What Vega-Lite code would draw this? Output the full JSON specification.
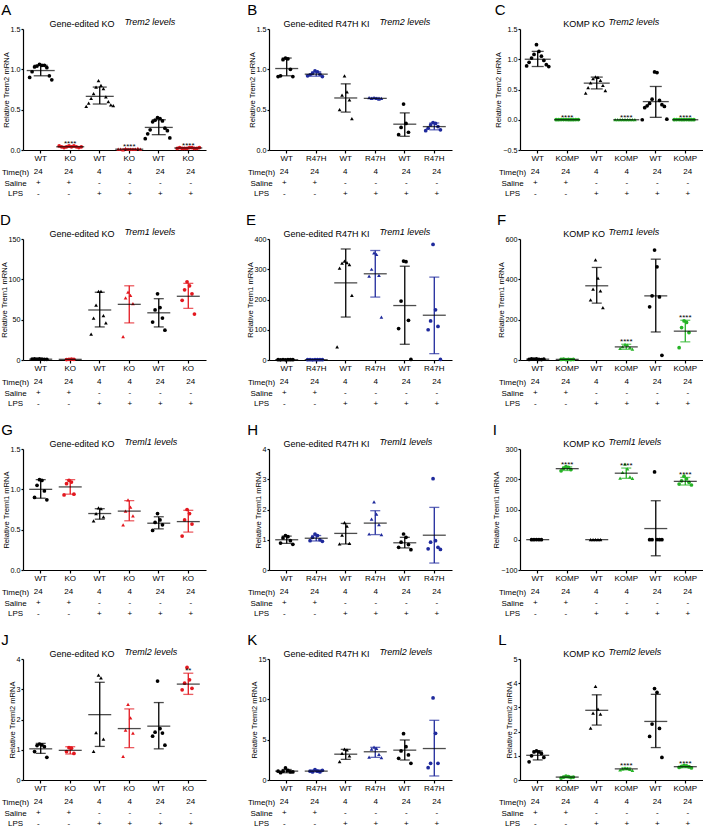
{
"$schema": "https://vega.github.io/schema/vega-lite/v6.json",
"padding": {"left": 0, "top": 3, "right": 0, "bottom": 0},
"background": "white",
"config": {
 "font": "Liberation Sans",
 "view": {"stroke": null},
 "axis": {"grid": false, "domainColor": "#000", "domainWidth": 1.2, "tickColor": "#000", "tickWidth": 1.2, "tickSize": 3, "labelColor": "#000", "labelFontSize": 8, "titleColor": "#000", "titleFontSize": 8, "titleFontWeight": "normal", "labelPadding": 1, "titlePadding": 2, "labelFont": "Liberation Sans", "titleFont": "Liberation Sans"},
 "axisY": {"labelFontSize": 7.2, "tickSize": 2, "titlePadding": 0, "titleFontSize": 7.6, "labelOverlap": false},
 "title": {"fontWeight": "normal", "color": "#000", "font": "Liberation Sans"},
 "text": {"color": "#000", "font": "Liberation Sans"}
},
"datasets": {
"tbl": [
 {"g":1,"r":"Time(h)","t":"24"},{"g":2,"r":"Time(h)","t":"24"},{"g":3,"r":"Time(h)","t":"4"},{"g":4,"r":"Time(h)","t":"4"},{"g":5,"r":"Time(h)","t":"24"},{"g":6,"r":"Time(h)","t":"24"},
 {"g":1,"r":"Saline","t":"+"},{"g":2,"r":"Saline","t":"+"},{"g":3,"r":"Saline","t":"-"},{"g":4,"r":"Saline","t":"-"},{"g":5,"r":"Saline","t":"-"},{"g":6,"r":"Saline","t":"-"},
 {"g":1,"r":"LPS","t":"-"},{"g":2,"r":"LPS","t":"-"},{"g":3,"r":"LPS","t":"+"},{"g":4,"r":"LPS","t":"+"},{"g":5,"r":"LPS","t":"+"},{"g":6,"r":"LPS","t":"+"}
],
"st": [
 {"p":"A","g":1,"m":0.985,"lo":0.92,"hi":1.05},{"p":"A","g":2,"m":0.04,"lo":0.035,"hi":0.045,"sig":"****"},{"p":"A","g":3,"m":0.665,"lo":0.57,"hi":0.78},{"p":"A","g":4,"m":0.01,"lo":0.005,"hi":0.015,"sig":"****"},{"p":"A","g":5,"m":0.28,"lo":0.19,"hi":0.375},{"p":"A","g":6,"m":0.025,"lo":0.02,"hi":0.03,"sig":"****"},
 {"p":"B","g":1,"m":1.01,"lo":0.92,"hi":1.14},{"p":"B","g":2,"m":0.94,"lo":0.915,"hi":0.97},{"p":"B","g":3,"m":0.645,"lo":0.47,"hi":0.82},{"p":"B","g":4,"m":0.64,"lo":0.635,"hi":0.65},{"p":"B","g":5,"m":0.32,"lo":0.17,"hi":0.46},{"p":"B","g":6,"m":0.29,"lo":0.25,"hi":0.335},
 {"p":"C","g":1,"m":1.0,"lo":0.88,"hi":1.13},{"p":"C","g":2,"m":0.0,"lo":0.0,"hi":0.0,"sig":"****"},{"p":"C","g":3,"m":0.605,"lo":0.51,"hi":0.705},{"p":"C","g":4,"m":0.0,"lo":0.0,"hi":0.0,"sig":"****"},{"p":"C","g":5,"m":0.30,"lo":0.04,"hi":0.55},{"p":"C","g":6,"m":0.0,"lo":0.0,"hi":0.0,"sig":"****"},
 {"p":"D","g":1,"m":1,"lo":0.7,"hi":1.3},{"p":"D","g":2,"m":0.8,"lo":0.6,"hi":1.0},{"p":"D","g":3,"m":62,"lo":41,"hi":84},{"p":"D","g":4,"m":69,"lo":46,"hi":92},{"p":"D","g":5,"m":58.5,"lo":41,"hi":76},{"p":"D","g":6,"m":79,"lo":64,"hi":95},
 {"p":"E","g":1,"m":1,"lo":0.5,"hi":1.5},{"p":"E","g":2,"m":1,"lo":0.8,"hi":1.2},{"p":"E","g":3,"m":255,"lo":142,"hi":367},{"p":"E","g":4,"m":285,"lo":208,"hi":362},{"p":"E","g":5,"m":180,"lo":52,"hi":310},{"p":"E","g":6,"m":148,"lo":21,"hi":274},
 {"p":"F","g":1,"m":4,"lo":2,"hi":6},{"p":"F","g":2,"m":3,"lo":2,"hi":4},{"p":"F","g":3,"m":368,"lo":282,"hi":459},{"p":"F","g":4,"m":65,"lo":53,"hi":78,"sig":"****"},{"p":"F","g":5,"m":318,"lo":139,"hi":500},{"p":"F","g":6,"m":143,"lo":90,"hi":197,"sig":"****"},
 {"p":"G","g":1,"m":1.0,"lo":0.89,"hi":1.12},{"p":"G","g":2,"m":1.03,"lo":0.94,"hi":1.12},{"p":"G","g":3,"m":0.70,"lo":0.63,"hi":0.76},{"p":"G","g":4,"m":0.73,"lo":0.61,"hi":0.86},{"p":"G","g":5,"m":0.58,"lo":0.51,"hi":0.66},{"p":"G","g":6,"m":0.60,"lo":0.47,"hi":0.74},
 {"p":"H","g":1,"m":1.0,"lo":0.88,"hi":1.12},{"p":"H","g":2,"m":1.05,"lo":0.96,"hi":1.14},{"p":"H","g":3,"m":1.21,"lo":0.86,"hi":1.54},{"p":"H","g":4,"m":1.55,"lo":1.17,"hi":1.96},{"p":"H","g":5,"m":0.90,"lo":0.73,"hi":1.08},{"p":"H","g":6,"m":1.15,"lo":0.23,"hi":2.07},
 {"p":"I","g":1,"m":0.3,"lo":0.2,"hi":0.4},{"p":"I","g":2,"m":235,"lo":229,"hi":241,"sig":"****"},{"p":"I","g":3,"m":0.3,"lo":0.2,"hi":0.4},{"p":"I","g":4,"m":220,"lo":203,"hi":237,"sig":"****"},{"p":"I","g":5,"m":37,"lo":-53,"hi":129},{"p":"I","g":6,"m":193,"lo":181,"hi":206,"sig":"****"},
 {"p":"J","g":1,"m":1.03,"lo":0.88,"hi":1.21},{"p":"J","g":2,"m":0.98,"lo":0.86,"hi":1.10},{"p":"J","g":3,"m":2.16,"lo":1.11,"hi":3.23},{"p":"J","g":4,"m":1.70,"lo":1.07,"hi":2.35},{"p":"J","g":5,"m":1.78,"lo":1.03,"hi":2.56},{"p":"J","g":6,"m":3.17,"lo":2.83,"hi":3.53,"sig":"**"},
 {"p":"K","g":1,"m":1.1,"lo":0.9,"hi":1.3},{"p":"K","g":2,"m":1.1,"lo":1.0,"hi":1.25},{"p":"K","g":3,"m":3.2,"lo":2.56,"hi":3.8},{"p":"K","g":4,"m":3.5,"lo":2.81,"hi":4.05},{"p":"K","g":5,"m":3.7,"lo":2.48,"hi":4.96},{"p":"K","g":6,"m":3.9,"lo":0.5,"hi":7.4},
 {"p":"L","g":1,"m":1.02,"lo":0.83,"hi":1.2},{"p":"L","g":2,"m":0.12,"lo":0.09,"hi":0.15},{"p":"L","g":3,"m":2.88,"lo":2.27,"hi":3.52},{"p":"L","g":4,"m":0.46,"lo":0.42,"hi":0.50,"sig":"****"},{"p":"L","g":5,"m":2.42,"lo":1.34,"hi":3.54},{"p":"L","g":6,"m":0.55,"lo":0.51,"hi":0.59,"sig":"****"}
],
"pts": [
 {"p":"A","g":1,"v":1.06},{"p":"A","g":1,"v":1.05},{"p":"A","g":1,"v":1.04},{"p":"A","g":1,"v":1.05},{"p":"A","g":1,"v":1.03},{"p":"A","g":1,"v":1.02},{"p":"A","g":1,"v":0.97},{"p":"A","g":1,"v":0.92},{"p":"A","g":1,"v":0.90},{"p":"A","g":1,"v":0.87},
 {"p":"A","g":2,"v":0.05},{"p":"A","g":2,"v":0.04},{"p":"A","g":2,"v":0.04},{"p":"A","g":2,"v":0.05},{"p":"A","g":2,"v":0.03},{"p":"A","g":2,"v":0.04},{"p":"A","g":2,"v":0.04},{"p":"A","g":2,"v":0.03},{"p":"A","g":2,"v":0.05},{"p":"A","g":2,"v":0.04},
 {"p":"A","g":3,"v":0.86},{"p":"A","g":3,"v":0.80},{"p":"A","g":3,"v":0.78},{"p":"A","g":3,"v":0.76},{"p":"A","g":3,"v":0.70},{"p":"A","g":3,"v":0.66},{"p":"A","g":3,"v":0.64},{"p":"A","g":3,"v":0.60},{"p":"A","g":3,"v":0.58},{"p":"A","g":3,"v":0.56},{"p":"A","g":3,"v":0.54},{"p":"A","g":3,"v":0.55},
 {"p":"A","g":4,"v":0.01},{"p":"A","g":4,"v":0.01},{"p":"A","g":4,"v":0.02},{"p":"A","g":4,"v":0.01},{"p":"A","g":4,"v":0.0},{"p":"A","g":4,"v":0.01},{"p":"A","g":4,"v":0.01},{"p":"A","g":4,"v":0.02},{"p":"A","g":4,"v":0.01},{"p":"A","g":4,"v":0.01},
 {"p":"A","g":5,"v":0.40},{"p":"A","g":5,"v":0.39},{"p":"A","g":5,"v":0.37},{"p":"A","g":5,"v":0.36},{"p":"A","g":5,"v":0.35},{"p":"A","g":5,"v":0.27},{"p":"A","g":5,"v":0.25},{"p":"A","g":5,"v":0.24},{"p":"A","g":5,"v":0.20},{"p":"A","g":5,"v":0.15},{"p":"A","g":5,"v":0.14},
 {"p":"A","g":6,"v":0.02},{"p":"A","g":6,"v":0.03},{"p":"A","g":6,"v":0.02},{"p":"A","g":6,"v":0.03},{"p":"A","g":6,"v":0.02},{"p":"A","g":6,"v":0.02},{"p":"A","g":6,"v":0.03},{"p":"A","g":6,"v":0.02},{"p":"A","g":6,"v":0.02},{"p":"A","g":6,"v":0.03},
 {"p":"B","g":1,"v":1.14},{"p":"B","g":1,"v":1.13},{"p":"B","g":1,"v":1.12},{"p":"B","g":1,"v":1.0},{"p":"B","g":1,"v":0.92},{"p":"B","g":1,"v":0.91},{"p":"B","g":1,"v":0.91},
 {"p":"B","g":2,"v":0.98},{"p":"B","g":2,"v":0.97},{"p":"B","g":2,"v":0.95},{"p":"B","g":2,"v":0.94},{"p":"B","g":2,"v":0.93},{"p":"B","g":2,"v":0.91},{"p":"B","g":2,"v":0.92},
 {"p":"B","g":3,"v":0.92},{"p":"B","g":3,"v":0.72},{"p":"B","g":3,"v":0.68},{"p":"B","g":3,"v":0.62},{"p":"B","g":3,"v":0.50},{"p":"B","g":3,"v":0.39},
 {"p":"B","g":4,"v":0.65},{"p":"B","g":4,"v":0.64},{"p":"B","g":4,"v":0.64},{"p":"B","g":4,"v":0.63},{"p":"B","g":4,"v":0.65},{"p":"B","g":4,"v":0.64},
 {"p":"B","g":5,"v":0.57},{"p":"B","g":5,"v":0.33},{"p":"B","g":5,"v":0.28},{"p":"B","g":5,"v":0.22},{"p":"B","g":5,"v":0.19},
 {"p":"B","g":6,"v":0.34},{"p":"B","g":6,"v":0.33},{"p":"B","g":6,"v":0.31},{"p":"B","g":6,"v":0.29},{"p":"B","g":6,"v":0.27},{"p":"B","g":6,"v":0.25},{"p":"B","g":6,"v":0.24},
 {"p":"C","g":1,"v":1.24},{"p":"C","g":1,"v":1.13},{"p":"C","g":1,"v":1.08},{"p":"C","g":1,"v":1.05},{"p":"C","g":1,"v":1.02},{"p":"C","g":1,"v":0.98},{"p":"C","g":1,"v":0.95},{"p":"C","g":1,"v":0.91},{"p":"C","g":1,"v":0.89},{"p":"C","g":1,"v":0.88},
 {"p":"C","g":2,"v":0.003},{"p":"C","g":2,"v":0.002},{"p":"C","g":2,"v":0.004},{"p":"C","g":2,"v":0.002},{"p":"C","g":2,"v":0.003},{"p":"C","g":2,"v":0.001},{"p":"C","g":2,"v":0.002},{"p":"C","g":2,"v":0.003},{"p":"C","g":2,"v":0.002},{"p":"C","g":2,"v":0.004},
 {"p":"C","g":3,"v":0.71},{"p":"C","g":3,"v":0.70},{"p":"C","g":3,"v":0.68},{"p":"C","g":3,"v":0.65},{"p":"C","g":3,"v":0.61},{"p":"C","g":3,"v":0.57},{"p":"C","g":3,"v":0.53},{"p":"C","g":3,"v":0.48},{"p":"C","g":3,"v":0.44},
 {"p":"C","g":4,"v":0.002},{"p":"C","g":4,"v":0.003},{"p":"C","g":4,"v":0.001},{"p":"C","g":4,"v":0.002},{"p":"C","g":4,"v":0.004},{"p":"C","g":4,"v":0.002},{"p":"C","g":4,"v":0.003},{"p":"C","g":4,"v":0.002},{"p":"C","g":4,"v":0.001},
 {"p":"C","g":5,"v":0.79},{"p":"C","g":5,"v":0.78},{"p":"C","g":5,"v":0.34},{"p":"C","g":5,"v":0.32},{"p":"C","g":5,"v":0.27},{"p":"C","g":5,"v":0.25},{"p":"C","g":5,"v":0.23},{"p":"C","g":5,"v":0.22},{"p":"C","g":5,"v":0.20},{"p":"C","g":5,"v":0.01},{"p":"C","g":5,"v":0.0},
 {"p":"C","g":6,"v":0.002},{"p":"C","g":6,"v":0.003},{"p":"C","g":6,"v":0.001},{"p":"C","g":6,"v":0.002},{"p":"C","g":6,"v":0.004},{"p":"C","g":6,"v":0.002},{"p":"C","g":6,"v":0.003},{"p":"C","g":6,"v":0.002},{"p":"C","g":6,"v":0.001},
 {"p":"D","g":1,"v":1.5},{"p":"D","g":1,"v":1.2},{"p":"D","g":1,"v":1.0},{"p":"D","g":1,"v":0.8},{"p":"D","g":1,"v":1.3},{"p":"D","g":1,"v":0.9},{"p":"D","g":1,"v":1.1},
 {"p":"D","g":2,"v":0.8},{"p":"D","g":2,"v":1.0},{"p":"D","g":2,"v":0.6},{"p":"D","g":2,"v":0.9},
 {"p":"D","g":3,"v":85},{"p":"D","g":3,"v":85},{"p":"D","g":3,"v":68},{"p":"D","g":3,"v":55},{"p":"D","g":3,"v":52},{"p":"D","g":3,"v":46},{"p":"D","g":3,"v":32},
 {"p":"D","g":4,"v":84},{"p":"D","g":4,"v":80},{"p":"D","g":4,"v":77},{"p":"D","g":4,"v":70},{"p":"D","g":4,"v":29},
 {"p":"D","g":5,"v":82},{"p":"D","g":5,"v":65},{"p":"D","g":5,"v":62},{"p":"D","g":5,"v":52},{"p":"D","g":5,"v":47},{"p":"D","g":5,"v":37},
 {"p":"D","g":6,"v":97},{"p":"D","g":6,"v":92},{"p":"D","g":6,"v":87},{"p":"D","g":6,"v":82},{"p":"D","g":6,"v":74},{"p":"D","g":6,"v":57},
 {"p":"E","g":1,"v":0.5},{"p":"E","g":1,"v":1},{"p":"E","g":1,"v":1.5},{"p":"E","g":1,"v":1},{"p":"E","g":1,"v":0.8},{"p":"E","g":1,"v":1.2},{"p":"E","g":1,"v":0.9},
 {"p":"E","g":2,"v":1.0},{"p":"E","g":2,"v":1.2},{"p":"E","g":2,"v":0.8},{"p":"E","g":2,"v":1.1},{"p":"E","g":2,"v":0.9},{"p":"E","g":2,"v":1.0},{"p":"E","g":2,"v":1.0},
 {"p":"E","g":3,"v":327},{"p":"E","g":3,"v":322},{"p":"E","g":3,"v":320},{"p":"E","g":3,"v":315},{"p":"E","g":3,"v":304},{"p":"E","g":3,"v":214},{"p":"E","g":3,"v":43},
 {"p":"E","g":4,"v":354},{"p":"E","g":4,"v":349},{"p":"E","g":4,"v":300},{"p":"E","g":4,"v":280},{"p":"E","g":4,"v":277},{"p":"E","g":4,"v":142},
 {"p":"E","g":5,"v":327},{"p":"E","g":5,"v":325},{"p":"E","g":5,"v":195},{"p":"E","g":5,"v":131},{"p":"E","g":5,"v":104},{"p":"E","g":5,"v":2},
 {"p":"E","g":6,"v":382},{"p":"E","g":6,"v":166},{"p":"E","g":6,"v":129},{"p":"E","g":6,"v":111},{"p":"E","g":6,"v":100},{"p":"E","g":6,"v":2},
 {"p":"F","g":1,"v":5},{"p":"F","g":1,"v":3},{"p":"F","g":1,"v":4},{"p":"F","g":1,"v":2},{"p":"F","g":1,"v":6},{"p":"F","g":1,"v":4},{"p":"F","g":1,"v":3},
 {"p":"F","g":2,"v":2},{"p":"F","g":2,"v":3},{"p":"F","g":2,"v":4},{"p":"F","g":2,"v":2},{"p":"F","g":2,"v":3},{"p":"F","g":2,"v":3},
 {"p":"F","g":3,"v":497},{"p":"F","g":3,"v":406},{"p":"F","g":3,"v":351},{"p":"F","g":3,"v":343},{"p":"F","g":3,"v":298},{"p":"F","g":3,"v":260},
 {"p":"F","g":4,"v":78},{"p":"F","g":4,"v":74},{"p":"F","g":4,"v":66},{"p":"F","g":4,"v":62},{"p":"F","g":4,"v":58},{"p":"F","g":4,"v":54},
 {"p":"F","g":5,"v":545},{"p":"F","g":5,"v":462},{"p":"F","g":5,"v":318},{"p":"F","g":5,"v":313},{"p":"F","g":5,"v":264},{"p":"F","g":5,"v":23},
 {"p":"F","g":6,"v":194},{"p":"F","g":6,"v":186},{"p":"F","g":6,"v":161},{"p":"F","g":6,"v":136},{"p":"F","g":6,"v":61},
 {"p":"G","g":1,"v":1.12},{"p":"G","g":1,"v":1.11},{"p":"G","g":1,"v":1.05},{"p":"G","g":1,"v":0.98},{"p":"G","g":1,"v":0.90},{"p":"G","g":1,"v":0.87},
 {"p":"G","g":2,"v":1.11},{"p":"G","g":2,"v":1.09},{"p":"G","g":2,"v":1.07},{"p":"G","g":2,"v":0.94},{"p":"G","g":2,"v":0.93},
 {"p":"G","g":3,"v":0.77},{"p":"G","g":3,"v":0.76},{"p":"G","g":3,"v":0.70},{"p":"G","g":3,"v":0.66},{"p":"G","g":3,"v":0.61},
 {"p":"G","g":4,"v":0.87},{"p":"G","g":4,"v":0.78},{"p":"G","g":4,"v":0.73},{"p":"G","g":4,"v":0.67},{"p":"G","g":4,"v":0.56},
 {"p":"G","g":5,"v":0.70},{"p":"G","g":5,"v":0.62},{"p":"G","g":5,"v":0.59},{"p":"G","g":5,"v":0.56},{"p":"G","g":5,"v":0.49},
 {"p":"G","g":6,"v":0.75},{"p":"G","g":6,"v":0.70},{"p":"G","g":6,"v":0.62},{"p":"G","g":6,"v":0.57},{"p":"G","g":6,"v":0.42},
 {"p":"H","g":1,"v":1.14},{"p":"H","g":1,"v":1.10},{"p":"H","g":1,"v":1.06},{"p":"H","g":1,"v":0.97},{"p":"H","g":1,"v":0.89},{"p":"H","g":1,"v":0.85},
 {"p":"H","g":2,"v":1.19},{"p":"H","g":2,"v":1.14},{"p":"H","g":2,"v":1.08},{"p":"H","g":2,"v":1.0},{"p":"H","g":2,"v":0.97},{"p":"H","g":2,"v":0.95},
 {"p":"H","g":3,"v":1.57},{"p":"H","g":3,"v":1.45},{"p":"H","g":3,"v":1.15},{"p":"H","g":3,"v":0.88},{"p":"H","g":3,"v":0.86},
 {"p":"H","g":4,"v":2.25},{"p":"H","g":4,"v":1.85},{"p":"H","g":4,"v":1.68},{"p":"H","g":4,"v":1.50},{"p":"H","g":4,"v":1.19},{"p":"H","g":4,"v":1.17},
 {"p":"H","g":5,"v":1.19},{"p":"H","g":5,"v":1.08},{"p":"H","g":5,"v":0.92},{"p":"H","g":5,"v":0.84},{"p":"H","g":5,"v":0.75},{"p":"H","g":5,"v":0.67},
 {"p":"H","g":6,"v":3.02},{"p":"H","g":6,"v":0.97},{"p":"H","g":6,"v":0.92},{"p":"H","g":6,"v":0.75},{"p":"H","g":6,"v":0.70},{"p":"H","g":6,"v":0.68},
 {"p":"I","g":1,"v":0.5},{"p":"I","g":1,"v":0.3},{"p":"I","g":1,"v":0.2},{"p":"I","g":1,"v":0.4},{"p":"I","g":1,"v":0.3},
 {"p":"I","g":2,"v":242},{"p":"I","g":2,"v":239},{"p":"I","g":2,"v":236},{"p":"I","g":2,"v":232},{"p":"I","g":2,"v":228},
 {"p":"I","g":3,"v":0.3},{"p":"I","g":3,"v":0.2},{"p":"I","g":3,"v":0.4},{"p":"I","g":3,"v":0.2},{"p":"I","g":3,"v":0.3},
 {"p":"I","g":4,"v":250},{"p":"I","g":4,"v":234},{"p":"I","g":4,"v":223},{"p":"I","g":4,"v":208},{"p":"I","g":4,"v":204},{"p":"I","g":4,"v":203},
 {"p":"I","g":5,"v":224},{"p":"I","g":5,"v":0.5},{"p":"I","g":5,"v":0.3},{"p":"I","g":5,"v":0.4},{"p":"I","g":5,"v":0.2},{"p":"I","g":5,"v":0.3},
 {"p":"I","g":6,"v":210},{"p":"I","g":6,"v":201},{"p":"I","g":6,"v":195},{"p":"I","g":6,"v":190},{"p":"I","g":6,"v":184},{"p":"I","g":6,"v":181},
 {"p":"J","g":1,"v":1.19},{"p":"J","g":1,"v":1.16},{"p":"J","g":1,"v":1.14},{"p":"J","g":1,"v":1.10},{"p":"J","g":1,"v":0.94},{"p":"J","g":1,"v":0.75},
 {"p":"J","g":2,"v":1.07},{"p":"J","g":2,"v":1.05},{"p":"J","g":2,"v":0.94},{"p":"J","g":2,"v":0.88},
 {"p":"J","g":3,"v":3.47},{"p":"J","g":3,"v":3.38},{"p":"J","g":3,"v":1.57},{"p":"J","g":3,"v":1.35},{"p":"J","g":3,"v":0.95},
 {"p":"J","g":4,"v":2.50},{"p":"J","g":4,"v":2.05},{"p":"J","g":4,"v":1.65},{"p":"J","g":4,"v":1.55},{"p":"J","g":4,"v":0.78},
 {"p":"J","g":5,"v":3.27},{"p":"J","g":5,"v":1.70},{"p":"J","g":5,"v":1.58},{"p":"J","g":5,"v":1.55},{"p":"J","g":5,"v":1.45},{"p":"J","g":5,"v":1.15},
 {"p":"J","g":6,"v":3.72},{"p":"J","g":6,"v":3.31},{"p":"J","g":6,"v":3.20},{"p":"J","g":6,"v":3.03},{"p":"J","g":6,"v":2.98},
 {"p":"K","g":1,"v":1.5},{"p":"K","g":1,"v":1.2},{"p":"K","g":1,"v":1.1},{"p":"K","g":1,"v":1.0},{"p":"K","g":1,"v":0.9},{"p":"K","g":1,"v":1.0},{"p":"K","g":1,"v":1.1},
 {"p":"K","g":2,"v":1.3},{"p":"K","g":2,"v":1.1},{"p":"K","g":2,"v":1.0},{"p":"K","g":2,"v":1.0},{"p":"K","g":2,"v":1.1},{"p":"K","g":2,"v":1.2},
 {"p":"K","g":3,"v":3.84},{"p":"K","g":3,"v":3.72},{"p":"K","g":3,"v":3.30},{"p":"K","g":3,"v":2.98},{"p":"K","g":3,"v":2.27},
 {"p":"K","g":4,"v":4.09},{"p":"K","g":4,"v":3.93},{"p":"K","g":4,"v":3.84},{"p":"K","g":4,"v":3.18},{"p":"K","g":4,"v":2.85},{"p":"K","g":4,"v":2.77},
 {"p":"K","g":5,"v":5.74},{"p":"K","g":5,"v":4.13},{"p":"K","g":5,"v":3.60},{"p":"K","g":5,"v":3.10},{"p":"K","g":5,"v":2.69},{"p":"K","g":5,"v":2.07},
 {"p":"K","g":6,"v":10.17},{"p":"K","g":6,"v":5.79},{"p":"K","g":6,"v":2.07},{"p":"K","g":6,"v":2.07},{"p":"K","g":6,"v":1.53},
 {"p":"L","g":1,"v":1.2},{"p":"L","g":1,"v":1.16},{"p":"L","g":1,"v":1.16},{"p":"L","g":1,"v":1.10},{"p":"L","g":1,"v":1.0},{"p":"L","g":1,"v":0.93},{"p":"L","g":1,"v":0.75},
 {"p":"L","g":2,"v":0.16},{"p":"L","g":2,"v":0.14},{"p":"L","g":2,"v":0.12},{"p":"L","g":2,"v":0.10},{"p":"L","g":2,"v":0.08},{"p":"L","g":2,"v":0.12},
 {"p":"L","g":3,"v":3.87},{"p":"L","g":3,"v":2.93},{"p":"L","g":3,"v":2.76},{"p":"L","g":3,"v":2.72},{"p":"L","g":3,"v":2.14},
 {"p":"L","g":4,"v":0.50},{"p":"L","g":4,"v":0.48},{"p":"L","g":4,"v":0.46},{"p":"L","g":4,"v":0.44},{"p":"L","g":4,"v":0.42},{"p":"L","g":4,"v":0.40},
 {"p":"L","g":5,"v":3.78},{"p":"L","g":5,"v":3.62},{"p":"L","g":5,"v":2.31},{"p":"L","g":5,"v":2.13},{"p":"L","g":5,"v":1.80},{"p":"L","g":5,"v":0.93},
 {"p":"L","g":6,"v":0.60},{"p":"L","g":6,"v":0.58},{"p":"L","g":6,"v":0.56},{"p":"L","g":6,"v":0.54},{"p":"L","g":6,"v":0.52},{"p":"L","g":6,"v":0.50}
]
},
"columns": 3,
"spacing": {"row": 14, "column": 40},
"concat": [
{"title": {"text": "A", "fontSize": 15, "anchor": "start", "frame": "bounds", "offset": -1}, "spacing": 5, "vconcat": [
 {"width": 183, "height": 121,
  "title": {"text": "Gene-edited KO", "fontSize": 9, "anchor": "middle", "align": "right", "dx": 0, "offset": -12},
  "resolve": {"axis": {"x": "independent"}},
  "encoding": {"x": {"field": "g", "type": "ordinal", "scale": {"paddingInner": 0, "paddingOuter": 0.1}, "axis": {"title": null, "labelAngle": 0, "labelPadding": 1, "labelExpr": "datum.value % 2 == 1 ? 'WT' : 'KO'"}}},
  "layer": [
   {"data": {"name": "pts"}, "transform": [{"filter": "datum.p == 'A'"}, {"window": [{"op": "row_number", "as": "j"}], "groupby": ["g"]}],
    "mark": {"type": "point", "filled": true, "size": 14, "opacity": 1},
    "encoding": {"xOffset": {"field": "j", "type": "ordinal", "scale": {"domain": [11,9,7,5,3,1,2,4,6,8,10,12]}},
     "y": {"field": "v", "type": "quantitative", "scale": {"domain": [0, 1.5], "nice": false}, "axis": {"title": "Relative Trem2 mRNA", "values": [0, 0.5, 1, 1.5], "tickCount": 10, "labelOverlap": false, "format": ".1f"}},
     "color": {"condition": {"test": "datum.g % 2 == 0", "value": "#e3181f"}, "value": "#000"},
     "shape": {"condition": {"test": "datum.g == 3 || datum.g == 4", "value": "triangle-up"}, "value": "circle"}}},
   {"data": {"name": "st"}, "transform": [{"filter": "datum.p == 'A'"}],
    "encoding": {"x": {"field": "g", "type": "ordinal", "scale": {"paddingInner": 0, "paddingOuter": 0.1}, "axis": {"orient": "top", "domain": false, "ticks": false, "labels": false, "title": "Trem2 levels", "titleFontStyle": "italic", "titleFontSize": 9, "titleX": 101, "titleAlign": "left", "titlePadding": 3}}},
    "layer": [
     {"mark": {"type": "rule", "strokeWidth": 1.3}, "encoding": {"y": {"field": "lo", "type": "quantitative"}, "y2": {"field": "hi"}, "color": {"condition": {"test": "datum.g % 2 == 0", "value": "#e3181f"}, "value": "#000"}}},
     {"mark": {"type": "tick", "size": 14, "thickness": 1.3}, "encoding": {"y": {"field": "lo", "type": "quantitative"}, "color": {"condition": {"test": "datum.g % 2 == 0", "value": "#e3181f"}, "value": "#000"}}},
     {"mark": {"type": "tick", "size": 14, "thickness": 1.3}, "encoding": {"y": {"field": "hi", "type": "quantitative"}, "color": {"condition": {"test": "datum.g % 2 == 0", "value": "#e3181f"}, "value": "#000"}}},
     {"mark": {"type": "tick", "size": 28, "thickness": 1.3, "color": "#000"}, "encoding": {"y": {"field": "m", "type": "quantitative"}}},
     {"transform": [{"filter": "datum.sig"}], "mark": {"type": "text", "dy": -2, "fontSize": 8, "color": "#000"}, "encoding": {"y": {"field": "hi", "type": "quantitative"}, "text": {"field": "sig"}}}
   ]}
  ]},
 {"width": 183, "height": 32, "data": {"name": "tbl"}, "mark": {"type": "text", "fontSize": 8, "color": "#000"},
  "encoding": {"x": {"field": "g", "type": "ordinal", "scale": {"paddingInner": 0, "paddingOuter": 0.1}, "axis": null},
   "y": {"field": "r", "type": "nominal", "sort": ["Time(h)", "Saline", "LPS"], "axis": {"title": null, "domain": false, "ticks": false, "labelAlign": "center", "labelPadding": 8, "labelFontSize": 8}},
   "text": {"field": "t"}}}
]},
{"title": {"text": "B", "fontSize": 15, "anchor": "start", "frame": "bounds", "offset": -1}, "spacing": 5, "vconcat": [
 {"width": 183, "height": 121,
  "title": {"text": "Gene-edited R47H KI", "fontSize": 9, "anchor": "middle", "align": "right", "dx": 9, "offset": -12},
  "resolve": {"axis": {"x": "independent"}},
  "encoding": {"x": {"field": "g", "type": "ordinal", "scale": {"paddingInner": 0, "paddingOuter": 0.1}, "axis": {"title": null, "labelAngle": 0, "labelPadding": 1, "labelExpr": "datum.value % 2 == 1 ? 'WT' : 'R47H'"}}},
  "layer": [
   {"data": {"name": "pts"}, "transform": [{"filter": "datum.p == 'B'"}, {"window": [{"op": "row_number", "as": "j"}], "groupby": ["g"]}],
    "mark": {"type": "point", "filled": true, "size": 14, "opacity": 1},
    "encoding": {"xOffset": {"field": "j", "type": "ordinal", "scale": {"domain": [7,5,3,1,2,4,6]}},
     "y": {"field": "v", "type": "quantitative", "scale": {"domain": [0, 1.5], "nice": false}, "axis": {"title": "Relative Trem2 mRNA", "values": [0, 0.5, 1, 1.5], "tickCount": 10, "labelOverlap": false, "format": ".1f"}},
     "color": {"condition": {"test": "datum.g % 2 == 0", "value": "#1f2a9c"}, "value": "#000"},
     "shape": {"condition": {"test": "datum.g == 3 || datum.g == 4", "value": "triangle-up"}, "value": "circle"}}},
   {"data": {"name": "st"}, "transform": [{"filter": "datum.p == 'B'"}],
    "encoding": {"x": {"field": "g", "type": "ordinal", "scale": {"paddingInner": 0, "paddingOuter": 0.1}, "axis": {"orient": "top", "domain": false, "ticks": false, "labels": false, "title": "Trem2 levels", "titleFontStyle": "italic", "titleFontSize": 9, "titleX": 110, "titleAlign": "left", "titlePadding": 3}}},
    "layer": [
     {"mark": {"type": "rule", "strokeWidth": 1.3}, "encoding": {"y": {"field": "lo", "type": "quantitative"}, "y2": {"field": "hi"}, "color": {"condition": {"test": "datum.g % 2 == 0", "value": "#1f2a9c"}, "value": "#000"}}},
     {"mark": {"type": "tick", "size": 10, "thickness": 1.3}, "encoding": {"y": {"field": "lo", "type": "quantitative"}, "color": {"condition": {"test": "datum.g % 2 == 0", "value": "#1f2a9c"}, "value": "#000"}}},
     {"mark": {"type": "tick", "size": 10, "thickness": 1.3}, "encoding": {"y": {"field": "hi", "type": "quantitative"}, "color": {"condition": {"test": "datum.g % 2 == 0", "value": "#1f2a9c"}, "value": "#000"}}},
     {"mark": {"type": "tick", "size": 23, "thickness": 1.3, "color": "#000"}, "encoding": {"y": {"field": "m", "type": "quantitative"}}},
     {"transform": [{"filter": "datum.sig"}], "mark": {"type": "text", "dy": -2, "fontSize": 8, "color": "#000"}, "encoding": {"y": {"field": "hi", "type": "quantitative"}, "text": {"field": "sig"}}}
   ]}
  ]},
 {"width": 183, "height": 32, "data": {"name": "tbl"}, "mark": {"type": "text", "fontSize": 8, "color": "#000"},
  "encoding": {"x": {"field": "g", "type": "ordinal", "scale": {"paddingInner": 0, "paddingOuter": 0.1}, "axis": null},
   "y": {"field": "r", "type": "nominal", "sort": ["Time(h)", "Saline", "LPS"], "axis": {"title": null, "domain": false, "ticks": false, "labelAlign": "center", "labelPadding": 8, "labelFontSize": 8}},
   "text": {"field": "t"}}}
]},
{"title": {"text": "C", "fontSize": 15, "anchor": "start", "frame": "bounds", "offset": -1}, "spacing": 5, "vconcat": [
 {"width": 183, "height": 121,
  "title": {"text": "KOMP KO", "fontSize": 9, "anchor": "middle", "align": "right", "dx": -6.5, "offset": -12},
  "resolve": {"axis": {"x": "independent"}},
  "encoding": {"x": {"field": "g", "type": "ordinal", "scale": {"paddingInner": 0, "paddingOuter": 0.1}, "axis": {"title": null, "labelAngle": 0, "labelPadding": 1, "labelExpr": "datum.value % 2 == 1 ? 'WT' : 'KOMP'"}}},
  "layer": [
   {"data": {"name": "pts"}, "transform": [{"filter": "datum.p == 'C'"}, {"window": [{"op": "row_number", "as": "j"}], "groupby": ["g"]}],
    "mark": {"type": "point", "filled": true, "size": 14, "opacity": 1},
    "encoding": {"xOffset": {"field": "j", "type": "ordinal", "scale": {"domain": [11,9,7,5,3,1,2,4,6,8,10,12]}},
     "y": {"field": "v", "type": "quantitative", "scale": {"domain": [-0.5, 1.5], "nice": false}, "axis": {"title": "Relative Trem2 mRNA", "values": [-0.5, 0, 0.5, 1, 1.5], "tickCount": 10, "labelOverlap": false, "format": ".1f"}},
     "color": {"condition": {"test": "datum.g % 2 == 0", "value": "#27b327"}, "value": "#000"},
     "shape": {"condition": {"test": "datum.g == 3 || datum.g == 4", "value": "triangle-up"}, "value": "circle"}}},
   {"data": {"name": "st"}, "transform": [{"filter": "datum.p == 'C'"}],
    "encoding": {"x": {"field": "g", "type": "ordinal", "scale": {"paddingInner": 0, "paddingOuter": 0.1}, "axis": {"orient": "top", "domain": false, "ticks": false, "labels": false, "title": "Trem2 levels", "titleFontStyle": "italic", "titleFontSize": 9, "titleX": 88, "titleAlign": "left", "titlePadding": 3}}},
    "layer": [
     {"mark": {"type": "rule", "strokeWidth": 1.3}, "encoding": {"y": {"field": "lo", "type": "quantitative"}, "y2": {"field": "hi"}, "color": {"condition": {"test": "datum.g % 2 == 0", "value": "#27b327"}, "value": "#000"}}},
     {"mark": {"type": "tick", "size": 12, "thickness": 1.3}, "encoding": {"y": {"field": "lo", "type": "quantitative"}, "color": {"condition": {"test": "datum.g % 2 == 0", "value": "#27b327"}, "value": "#000"}}},
     {"mark": {"type": "tick", "size": 12, "thickness": 1.3}, "encoding": {"y": {"field": "hi", "type": "quantitative"}, "color": {"condition": {"test": "datum.g % 2 == 0", "value": "#27b327"}, "value": "#000"}}},
     {"mark": {"type": "tick", "size": 26, "thickness": 1.3, "color": "#000"}, "encoding": {"y": {"field": "m", "type": "quantitative"}}},
     {"transform": [{"filter": "datum.sig"}], "mark": {"type": "text", "dy": -2, "fontSize": 8, "color": "#000"}, "encoding": {"y": {"field": "hi", "type": "quantitative"}, "text": {"field": "sig"}}}
   ]}
  ]},
 {"width": 183, "height": 32, "data": {"name": "tbl"}, "mark": {"type": "text", "fontSize": 8, "color": "#000"},
  "encoding": {"x": {"field": "g", "type": "ordinal", "scale": {"paddingInner": 0, "paddingOuter": 0.1}, "axis": null},
   "y": {"field": "r", "type": "nominal", "sort": ["Time(h)", "Saline", "LPS"], "axis": {"title": null, "domain": false, "ticks": false, "labelAlign": "center", "labelPadding": 8, "labelFontSize": 8}},
   "text": {"field": "t"}}}
]},
{"title": {"text": "D", "fontSize": 15, "anchor": "start", "frame": "bounds", "offset": -1}, "spacing": 5, "vconcat": [
 {"width": 183, "height": 121,
  "title": {"text": "Gene-edited KO", "fontSize": 9, "anchor": "middle", "align": "right", "dx": 0, "offset": -12},
  "resolve": {"axis": {"x": "independent"}},
  "encoding": {"x": {"field": "g", "type": "ordinal", "scale": {"paddingInner": 0, "paddingOuter": 0.1}, "axis": {"title": null, "labelAngle": 0, "labelPadding": 1, "labelExpr": "datum.value % 2 == 1 ? 'WT' : 'KO'"}}},
  "layer": [
   {"data": {"name": "pts"}, "transform": [{"filter": "datum.p == 'D'"}, {"window": [{"op": "row_number", "as": "j"}], "groupby": ["g"]}],
    "mark": {"type": "point", "filled": true, "size": 14, "opacity": 1},
    "encoding": {"xOffset": {"field": "j", "type": "ordinal", "scale": {"domain": [7,5,3,1,2,4,6]}},
     "y": {"field": "v", "type": "quantitative", "scale": {"domain": [0, 150], "nice": false}, "axis": {"title": "Relative Trem1 mRNA", "values": [0, 50, 100, 150], "tickCount": 10, "labelOverlap": false, "format": "d"}},
     "color": {"condition": {"test": "datum.g % 2 == 0", "value": "#e3181f"}, "value": "#000"},
     "shape": {"condition": {"test": "datum.g == 3 || datum.g == 4", "value": "triangle-up"}, "value": "circle"}}},
   {"data": {"name": "st"}, "transform": [{"filter": "datum.p == 'D'"}],
    "encoding": {"x": {"field": "g", "type": "ordinal", "scale": {"paddingInner": 0, "paddingOuter": 0.1}, "axis": {"orient": "top", "domain": false, "ticks": false, "labels": false, "title": "Trem1 levels", "titleFontStyle": "italic", "titleFontSize": 9, "titleX": 101, "titleAlign": "left", "titlePadding": 3}}},
    "layer": [
     {"mark": {"type": "rule", "strokeWidth": 1.3}, "encoding": {"y": {"field": "lo", "type": "quantitative"}, "y2": {"field": "hi"}, "color": {"condition": {"test": "datum.g % 2 == 0", "value": "#e3181f"}, "value": "#000"}}},
     {"mark": {"type": "tick", "size": 10, "thickness": 1.3}, "encoding": {"y": {"field": "lo", "type": "quantitative"}, "color": {"condition": {"test": "datum.g % 2 == 0", "value": "#e3181f"}, "value": "#000"}}},
     {"mark": {"type": "tick", "size": 10, "thickness": 1.3}, "encoding": {"y": {"field": "hi", "type": "quantitative"}, "color": {"condition": {"test": "datum.g % 2 == 0", "value": "#e3181f"}, "value": "#000"}}},
     {"mark": {"type": "tick", "size": 23, "thickness": 1.3, "color": "#000"}, "encoding": {"y": {"field": "m", "type": "quantitative"}}},
     {"transform": [{"filter": "datum.sig"}], "mark": {"type": "text", "dy": -2, "fontSize": 8, "color": "#000"}, "encoding": {"y": {"field": "hi", "type": "quantitative"}, "text": {"field": "sig"}}}
   ]}
  ]},
 {"width": 183, "height": 32, "data": {"name": "tbl"}, "mark": {"type": "text", "fontSize": 8, "color": "#000"},
  "encoding": {"x": {"field": "g", "type": "ordinal", "scale": {"paddingInner": 0, "paddingOuter": 0.1}, "axis": null},
   "y": {"field": "r", "type": "nominal", "sort": ["Time(h)", "Saline", "LPS"], "axis": {"title": null, "domain": false, "ticks": false, "labelAlign": "center", "labelPadding": 8, "labelFontSize": 8}},
   "text": {"field": "t"}}}
]},
{"title": {"text": "E", "fontSize": 15, "anchor": "start", "frame": "bounds", "offset": -1}, "spacing": 5, "vconcat": [
 {"width": 183, "height": 121,
  "title": {"text": "Gene-edited R47H KI", "fontSize": 9, "anchor": "middle", "align": "right", "dx": 9, "offset": -12},
  "resolve": {"axis": {"x": "independent"}},
  "encoding": {"x": {"field": "g", "type": "ordinal", "scale": {"paddingInner": 0, "paddingOuter": 0.1}, "axis": {"title": null, "labelAngle": 0, "labelPadding": 1, "labelExpr": "datum.value % 2 == 1 ? 'WT' : 'R47H'"}}},
  "layer": [
   {"data": {"name": "pts"}, "transform": [{"filter": "datum.p == 'E'"}, {"window": [{"op": "row_number", "as": "j"}], "groupby": ["g"]}],
    "mark": {"type": "point", "filled": true, "size": 14, "opacity": 1},
    "encoding": {"xOffset": {"field": "j", "type": "ordinal", "scale": {"domain": [7,5,3,1,2,4,6]}},
     "y": {"field": "v", "type": "quantitative", "scale": {"domain": [0, 400], "nice": false}, "axis": {"title": "Relative Trem1 mRNA", "values": [0, 100, 200, 300, 400], "tickCount": 10, "labelOverlap": false, "format": "d"}},
     "color": {"condition": {"test": "datum.g % 2 == 0", "value": "#1f2a9c"}, "value": "#000"},
     "shape": {"condition": {"test": "datum.g == 3 || datum.g == 4", "value": "triangle-up"}, "value": "circle"}}},
   {"data": {"name": "st"}, "transform": [{"filter": "datum.p == 'E'"}],
    "encoding": {"x": {"field": "g", "type": "ordinal", "scale": {"paddingInner": 0, "paddingOuter": 0.1}, "axis": {"orient": "top", "domain": false, "ticks": false, "labels": false, "title": "Trem1 levels", "titleFontStyle": "italic", "titleFontSize": 9, "titleX": 110, "titleAlign": "left", "titlePadding": 3}}},
    "layer": [
     {"mark": {"type": "rule", "strokeWidth": 1.3}, "encoding": {"y": {"field": "lo", "type": "quantitative"}, "y2": {"field": "hi"}, "color": {"condition": {"test": "datum.g % 2 == 0", "value": "#1f2a9c"}, "value": "#000"}}},
     {"mark": {"type": "tick", "size": 10, "thickness": 1.3}, "encoding": {"y": {"field": "lo", "type": "quantitative"}, "color": {"condition": {"test": "datum.g % 2 == 0", "value": "#1f2a9c"}, "value": "#000"}}},
     {"mark": {"type": "tick", "size": 10, "thickness": 1.3}, "encoding": {"y": {"field": "hi", "type": "quantitative"}, "color": {"condition": {"test": "datum.g % 2 == 0", "value": "#1f2a9c"}, "value": "#000"}}},
     {"mark": {"type": "tick", "size": 23, "thickness": 1.3, "color": "#000"}, "encoding": {"y": {"field": "m", "type": "quantitative"}}},
     {"transform": [{"filter": "datum.sig"}], "mark": {"type": "text", "dy": -2, "fontSize": 8, "color": "#000"}, "encoding": {"y": {"field": "hi", "type": "quantitative"}, "text": {"field": "sig"}}}
   ]}
  ]},
 {"width": 183, "height": 32, "data": {"name": "tbl"}, "mark": {"type": "text", "fontSize": 8, "color": "#000"},
  "encoding": {"x": {"field": "g", "type": "ordinal", "scale": {"paddingInner": 0, "paddingOuter": 0.1}, "axis": null},
   "y": {"field": "r", "type": "nominal", "sort": ["Time(h)", "Saline", "LPS"], "axis": {"title": null, "domain": false, "ticks": false, "labelAlign": "center", "labelPadding": 8, "labelFontSize": 8}},
   "text": {"field": "t"}}}
]},
{"title": {"text": "F", "fontSize": 15, "anchor": "start", "frame": "bounds", "offset": -1}, "spacing": 5, "vconcat": [
 {"width": 183, "height": 121,
  "title": {"text": "KOMP KO", "fontSize": 9, "anchor": "middle", "align": "right", "dx": -6.5, "offset": -12},
  "resolve": {"axis": {"x": "independent"}},
  "encoding": {"x": {"field": "g", "type": "ordinal", "scale": {"paddingInner": 0, "paddingOuter": 0.1}, "axis": {"title": null, "labelAngle": 0, "labelPadding": 1, "labelExpr": "datum.value % 2 == 1 ? 'WT' : 'KOMP'"}}},
  "layer": [
   {"data": {"name": "pts"}, "transform": [{"filter": "datum.p == 'F'"}, {"window": [{"op": "row_number", "as": "j"}], "groupby": ["g"]}],
    "mark": {"type": "point", "filled": true, "size": 14, "opacity": 1},
    "encoding": {"xOffset": {"field": "j", "type": "ordinal", "scale": {"domain": [7,5,3,1,2,4,6]}},
     "y": {"field": "v", "type": "quantitative", "scale": {"domain": [0, 600], "nice": false}, "axis": {"title": "Relative Trem1 mRNA", "values": [0, 200, 400, 600], "tickCount": 10, "labelOverlap": false, "format": "d"}},
     "color": {"condition": {"test": "datum.g % 2 == 0", "value": "#27b327"}, "value": "#000"},
     "shape": {"condition": {"test": "datum.g == 3 || datum.g == 4", "value": "triangle-up"}, "value": "circle"}}},
   {"data": {"name": "st"}, "transform": [{"filter": "datum.p == 'F'"}],
    "encoding": {"x": {"field": "g", "type": "ordinal", "scale": {"paddingInner": 0, "paddingOuter": 0.1}, "axis": {"orient": "top", "domain": false, "ticks": false, "labels": false, "title": "Trem1 levels", "titleFontStyle": "italic", "titleFontSize": 9, "titleX": 88, "titleAlign": "left", "titlePadding": 3}}},
    "layer": [
     {"mark": {"type": "rule", "strokeWidth": 1.3}, "encoding": {"y": {"field": "lo", "type": "quantitative"}, "y2": {"field": "hi"}, "color": {"condition": {"test": "datum.g % 2 == 0", "value": "#27b327"}, "value": "#000"}}},
     {"mark": {"type": "tick", "size": 10, "thickness": 1.3}, "encoding": {"y": {"field": "lo", "type": "quantitative"}, "color": {"condition": {"test": "datum.g % 2 == 0", "value": "#27b327"}, "value": "#000"}}},
     {"mark": {"type": "tick", "size": 10, "thickness": 1.3}, "encoding": {"y": {"field": "hi", "type": "quantitative"}, "color": {"condition": {"test": "datum.g % 2 == 0", "value": "#27b327"}, "value": "#000"}}},
     {"mark": {"type": "tick", "size": 23, "thickness": 1.3, "color": "#000"}, "encoding": {"y": {"field": "m", "type": "quantitative"}}},
     {"transform": [{"filter": "datum.sig"}], "mark": {"type": "text", "dy": -2, "fontSize": 8, "color": "#000"}, "encoding": {"y": {"field": "hi", "type": "quantitative"}, "text": {"field": "sig"}}}
   ]}
  ]},
 {"width": 183, "height": 32, "data": {"name": "tbl"}, "mark": {"type": "text", "fontSize": 8, "color": "#000"},
  "encoding": {"x": {"field": "g", "type": "ordinal", "scale": {"paddingInner": 0, "paddingOuter": 0.1}, "axis": null},
   "y": {"field": "r", "type": "nominal", "sort": ["Time(h)", "Saline", "LPS"], "axis": {"title": null, "domain": false, "ticks": false, "labelAlign": "center", "labelPadding": 8, "labelFontSize": 8}},
   "text": {"field": "t"}}}
]},
{"title": {"text": "G", "fontSize": 15, "anchor": "start", "frame": "bounds", "offset": -1}, "spacing": 5, "vconcat": [
 {"width": 183, "height": 121,
  "title": {"text": "Gene-edited KO", "fontSize": 9, "anchor": "middle", "align": "right", "dx": 0, "offset": -12},
  "resolve": {"axis": {"x": "independent"}},
  "encoding": {"x": {"field": "g", "type": "ordinal", "scale": {"paddingInner": 0, "paddingOuter": 0.1}, "axis": {"title": null, "labelAngle": 0, "labelPadding": 1, "labelExpr": "datum.value % 2 == 1 ? 'WT' : 'KO'"}}},
  "layer": [
   {"data": {"name": "pts"}, "transform": [{"filter": "datum.p == 'G'"}, {"window": [{"op": "row_number", "as": "j"}], "groupby": ["g"]}],
    "mark": {"type": "point", "filled": true, "size": 14, "opacity": 1},
    "encoding": {"xOffset": {"field": "j", "type": "ordinal", "scale": {"domain": [7,5,3,1,2,4,6]}},
     "y": {"field": "v", "type": "quantitative", "scale": {"domain": [0, 1.5], "nice": false}, "axis": {"title": "Relative Treml1 mRNA", "values": [0, 0.5, 1, 1.5], "tickCount": 10, "labelOverlap": false, "format": ".1f"}},
     "color": {"condition": {"test": "datum.g % 2 == 0", "value": "#e3181f"}, "value": "#000"},
     "shape": {"condition": {"test": "datum.g == 3 || datum.g == 4", "value": "triangle-up"}, "value": "circle"}}},
   {"data": {"name": "st"}, "transform": [{"filter": "datum.p == 'G'"}],
    "encoding": {"x": {"field": "g", "type": "ordinal", "scale": {"paddingInner": 0, "paddingOuter": 0.1}, "axis": {"orient": "top", "domain": false, "ticks": false, "labels": false, "title": "Treml1 levels", "titleFontStyle": "italic", "titleFontSize": 9, "titleX": 101, "titleAlign": "left", "titlePadding": 3}}},
    "layer": [
     {"mark": {"type": "rule", "strokeWidth": 1.3}, "encoding": {"y": {"field": "lo", "type": "quantitative"}, "y2": {"field": "hi"}, "color": {"condition": {"test": "datum.g % 2 == 0", "value": "#e3181f"}, "value": "#000"}}},
     {"mark": {"type": "tick", "size": 10, "thickness": 1.3}, "encoding": {"y": {"field": "lo", "type": "quantitative"}, "color": {"condition": {"test": "datum.g % 2 == 0", "value": "#e3181f"}, "value": "#000"}}},
     {"mark": {"type": "tick", "size": 10, "thickness": 1.3}, "encoding": {"y": {"field": "hi", "type": "quantitative"}, "color": {"condition": {"test": "datum.g % 2 == 0", "value": "#e3181f"}, "value": "#000"}}},
     {"mark": {"type": "tick", "size": 23, "thickness": 1.3, "color": "#000"}, "encoding": {"y": {"field": "m", "type": "quantitative"}}},
     {"transform": [{"filter": "datum.sig"}], "mark": {"type": "text", "dy": -2, "fontSize": 8, "color": "#000"}, "encoding": {"y": {"field": "hi", "type": "quantitative"}, "text": {"field": "sig"}}}
   ]}
  ]},
 {"width": 183, "height": 32, "data": {"name": "tbl"}, "mark": {"type": "text", "fontSize": 8, "color": "#000"},
  "encoding": {"x": {"field": "g", "type": "ordinal", "scale": {"paddingInner": 0, "paddingOuter": 0.1}, "axis": null},
   "y": {"field": "r", "type": "nominal", "sort": ["Time(h)", "Saline", "LPS"], "axis": {"title": null, "domain": false, "ticks": false, "labelAlign": "center", "labelPadding": 8, "labelFontSize": 8}},
   "text": {"field": "t"}}}
]},
{"title": {"text": "H", "fontSize": 15, "anchor": "start", "frame": "bounds", "offset": -1}, "spacing": 5, "vconcat": [
 {"width": 183, "height": 121,
  "title": {"text": "Gene-edited R47H KI", "fontSize": 9, "anchor": "middle", "align": "right", "dx": 9, "offset": -12},
  "resolve": {"axis": {"x": "independent"}},
  "encoding": {"x": {"field": "g", "type": "ordinal", "scale": {"paddingInner": 0, "paddingOuter": 0.1}, "axis": {"title": null, "labelAngle": 0, "labelPadding": 1, "labelExpr": "datum.value % 2 == 1 ? 'WT' : 'R47H'"}}},
  "layer": [
   {"data": {"name": "pts"}, "transform": [{"filter": "datum.p == 'H'"}, {"window": [{"op": "row_number", "as": "j"}], "groupby": ["g"]}],
    "mark": {"type": "point", "filled": true, "size": 14, "opacity": 1},
    "encoding": {"xOffset": {"field": "j", "type": "ordinal", "scale": {"domain": [7,5,3,1,2,4,6]}},
     "y": {"field": "v", "type": "quantitative", "scale": {"domain": [0, 4], "nice": false}, "axis": {"title": "Relative Treml1 mRNA", "values": [0, 1, 2, 3, 4], "tickCount": 10, "labelOverlap": false, "format": "d"}},
     "color": {"condition": {"test": "datum.g % 2 == 0", "value": "#1f2a9c"}, "value": "#000"},
     "shape": {"condition": {"test": "datum.g == 3 || datum.g == 4", "value": "triangle-up"}, "value": "circle"}}},
   {"data": {"name": "st"}, "transform": [{"filter": "datum.p == 'H'"}],
    "encoding": {"x": {"field": "g", "type": "ordinal", "scale": {"paddingInner": 0, "paddingOuter": 0.1}, "axis": {"orient": "top", "domain": false, "ticks": false, "labels": false, "title": "Treml1 levels", "titleFontStyle": "italic", "titleFontSize": 9, "titleX": 110, "titleAlign": "left", "titlePadding": 3}}},
    "layer": [
     {"mark": {"type": "rule", "strokeWidth": 1.3}, "encoding": {"y": {"field": "lo", "type": "quantitative"}, "y2": {"field": "hi"}, "color": {"condition": {"test": "datum.g % 2 == 0", "value": "#1f2a9c"}, "value": "#000"}}},
     {"mark": {"type": "tick", "size": 10, "thickness": 1.3}, "encoding": {"y": {"field": "lo", "type": "quantitative"}, "color": {"condition": {"test": "datum.g % 2 == 0", "value": "#1f2a9c"}, "value": "#000"}}},
     {"mark": {"type": "tick", "size": 10, "thickness": 1.3}, "encoding": {"y": {"field": "hi", "type": "quantitative"}, "color": {"condition": {"test": "datum.g % 2 == 0", "value": "#1f2a9c"}, "value": "#000"}}},
     {"mark": {"type": "tick", "size": 23, "thickness": 1.3, "color": "#000"}, "encoding": {"y": {"field": "m", "type": "quantitative"}}},
     {"transform": [{"filter": "datum.sig"}], "mark": {"type": "text", "dy": -2, "fontSize": 8, "color": "#000"}, "encoding": {"y": {"field": "hi", "type": "quantitative"}, "text": {"field": "sig"}}}
   ]}
  ]},
 {"width": 183, "height": 32, "data": {"name": "tbl"}, "mark": {"type": "text", "fontSize": 8, "color": "#000"},
  "encoding": {"x": {"field": "g", "type": "ordinal", "scale": {"paddingInner": 0, "paddingOuter": 0.1}, "axis": null},
   "y": {"field": "r", "type": "nominal", "sort": ["Time(h)", "Saline", "LPS"], "axis": {"title": null, "domain": false, "ticks": false, "labelAlign": "center", "labelPadding": 8, "labelFontSize": 8}},
   "text": {"field": "t"}}}
]},
{"title": {"text": "I", "fontSize": 15, "anchor": "start", "frame": "bounds", "offset": -1}, "spacing": 5, "vconcat": [
 {"width": 183, "height": 121,
  "title": {"text": "KOMP KO", "fontSize": 9, "anchor": "middle", "align": "right", "dx": -6.5, "offset": -12},
  "resolve": {"axis": {"x": "independent"}},
  "encoding": {"x": {"field": "g", "type": "ordinal", "scale": {"paddingInner": 0, "paddingOuter": 0.1}, "axis": {"title": null, "labelAngle": 0, "labelPadding": 1, "labelExpr": "datum.value % 2 == 1 ? 'WT' : 'KOMP'"}}},
  "layer": [
   {"data": {"name": "pts"}, "transform": [{"filter": "datum.p == 'I'"}, {"window": [{"op": "row_number", "as": "j"}], "groupby": ["g"]}],
    "mark": {"type": "point", "filled": true, "size": 14, "opacity": 1},
    "encoding": {"xOffset": {"field": "j", "type": "ordinal", "scale": {"domain": [7,5,3,1,2,4,6]}},
     "y": {"field": "v", "type": "quantitative", "scale": {"domain": [-100, 300], "nice": false}, "axis": {"title": "Relative Treml1 mRNA", "values": [-100, 0, 100, 200, 300], "tickCount": 10, "labelOverlap": false, "format": "d"}},
     "color": {"condition": {"test": "datum.g % 2 == 0", "value": "#27b327"}, "value": "#000"},
     "shape": {"condition": {"test": "datum.g == 3 || datum.g == 4", "value": "triangle-up"}, "value": "circle"}}},
   {"data": {"name": "st"}, "transform": [{"filter": "datum.p == 'I'"}],
    "encoding": {"x": {"field": "g", "type": "ordinal", "scale": {"paddingInner": 0, "paddingOuter": 0.1}, "axis": {"orient": "top", "domain": false, "ticks": false, "labels": false, "title": "Treml1 levels", "titleFontStyle": "italic", "titleFontSize": 9, "titleX": 88, "titleAlign": "left", "titlePadding": 3}}},
    "layer": [
     {"mark": {"type": "rule", "strokeWidth": 1.3}, "encoding": {"y": {"field": "lo", "type": "quantitative"}, "y2": {"field": "hi"}, "color": {"condition": {"test": "datum.g % 2 == 0", "value": "#27b327"}, "value": "#000"}}},
     {"mark": {"type": "tick", "size": 10, "thickness": 1.3}, "encoding": {"y": {"field": "lo", "type": "quantitative"}, "color": {"condition": {"test": "datum.g % 2 == 0", "value": "#27b327"}, "value": "#000"}}},
     {"mark": {"type": "tick", "size": 10, "thickness": 1.3}, "encoding": {"y": {"field": "hi", "type": "quantitative"}, "color": {"condition": {"test": "datum.g % 2 == 0", "value": "#27b327"}, "value": "#000"}}},
     {"mark": {"type": "tick", "size": 23, "thickness": 1.3, "color": "#000"}, "encoding": {"y": {"field": "m", "type": "quantitative"}}},
     {"transform": [{"filter": "datum.sig"}], "mark": {"type": "text", "dy": -2, "fontSize": 8, "color": "#000"}, "encoding": {"y": {"field": "hi", "type": "quantitative"}, "text": {"field": "sig"}}}
   ]}
  ]},
 {"width": 183, "height": 32, "data": {"name": "tbl"}, "mark": {"type": "text", "fontSize": 8, "color": "#000"},
  "encoding": {"x": {"field": "g", "type": "ordinal", "scale": {"paddingInner": 0, "paddingOuter": 0.1}, "axis": null},
   "y": {"field": "r", "type": "nominal", "sort": ["Time(h)", "Saline", "LPS"], "axis": {"title": null, "domain": false, "ticks": false, "labelAlign": "center", "labelPadding": 8, "labelFontSize": 8}},
   "text": {"field": "t"}}}
]},
{"title": {"text": "J", "fontSize": 15, "anchor": "start", "frame": "bounds", "offset": -1}, "spacing": 5, "vconcat": [
 {"width": 183, "height": 121,
  "title": {"text": "Gene-edited KO", "fontSize": 9, "anchor": "middle", "align": "right", "dx": 0, "offset": -12},
  "resolve": {"axis": {"x": "independent"}},
  "encoding": {"x": {"field": "g", "type": "ordinal", "scale": {"paddingInner": 0, "paddingOuter": 0.1}, "axis": {"title": null, "labelAngle": 0, "labelPadding": 1, "labelExpr": "datum.value % 2 == 1 ? 'WT' : 'KO'"}}},
  "layer": [
   {"data": {"name": "pts"}, "transform": [{"filter": "datum.p == 'J'"}, {"window": [{"op": "row_number", "as": "j"}], "groupby": ["g"]}],
    "mark": {"type": "point", "filled": true, "size": 14, "opacity": 1},
    "encoding": {"xOffset": {"field": "j", "type": "ordinal", "scale": {"domain": [7,5,3,1,2,4,6]}},
     "y": {"field": "v", "type": "quantitative", "scale": {"domain": [0, 4], "nice": false}, "axis": {"title": "Relative Treml2 mRNA", "values": [0, 1, 2, 3, 4], "tickCount": 10, "labelOverlap": false, "format": "d"}},
     "color": {"condition": {"test": "datum.g % 2 == 0", "value": "#e3181f"}, "value": "#000"},
     "shape": {"condition": {"test": "datum.g == 3 || datum.g == 4", "value": "triangle-up"}, "value": "circle"}}},
   {"data": {"name": "st"}, "transform": [{"filter": "datum.p == 'J'"}],
    "encoding": {"x": {"field": "g", "type": "ordinal", "scale": {"paddingInner": 0, "paddingOuter": 0.1}, "axis": {"orient": "top", "domain": false, "ticks": false, "labels": false, "title": "Treml2 levels", "titleFontStyle": "italic", "titleFontSize": 9, "titleX": 101, "titleAlign": "left", "titlePadding": 3}}},
    "layer": [
     {"mark": {"type": "rule", "strokeWidth": 1.3}, "encoding": {"y": {"field": "lo", "type": "quantitative"}, "y2": {"field": "hi"}, "color": {"condition": {"test": "datum.g % 2 == 0", "value": "#e3181f"}, "value": "#000"}}},
     {"mark": {"type": "tick", "size": 10, "thickness": 1.3}, "encoding": {"y": {"field": "lo", "type": "quantitative"}, "color": {"condition": {"test": "datum.g % 2 == 0", "value": "#e3181f"}, "value": "#000"}}},
     {"mark": {"type": "tick", "size": 10, "thickness": 1.3}, "encoding": {"y": {"field": "hi", "type": "quantitative"}, "color": {"condition": {"test": "datum.g % 2 == 0", "value": "#e3181f"}, "value": "#000"}}},
     {"mark": {"type": "tick", "size": 23, "thickness": 1.3, "color": "#000"}, "encoding": {"y": {"field": "m", "type": "quantitative"}}},
     {"transform": [{"filter": "datum.sig"}], "mark": {"type": "text", "dy": -2, "fontSize": 8, "color": "#000"}, "encoding": {"y": {"field": "hi", "type": "quantitative"}, "text": {"field": "sig"}}}
   ]}
  ]},
 {"width": 183, "height": 32, "data": {"name": "tbl"}, "mark": {"type": "text", "fontSize": 8, "color": "#000"},
  "encoding": {"x": {"field": "g", "type": "ordinal", "scale": {"paddingInner": 0, "paddingOuter": 0.1}, "axis": null},
   "y": {"field": "r", "type": "nominal", "sort": ["Time(h)", "Saline", "LPS"], "axis": {"title": null, "domain": false, "ticks": false, "labelAlign": "center", "labelPadding": 8, "labelFontSize": 8}},
   "text": {"field": "t"}}}
]},
{"title": {"text": "K", "fontSize": 15, "anchor": "start", "frame": "bounds", "offset": -1}, "spacing": 5, "vconcat": [
 {"width": 183, "height": 121,
  "title": {"text": "Gene-edited R47H KI", "fontSize": 9, "anchor": "middle", "align": "right", "dx": 9, "offset": -12},
  "resolve": {"axis": {"x": "independent"}},
  "encoding": {"x": {"field": "g", "type": "ordinal", "scale": {"paddingInner": 0, "paddingOuter": 0.1}, "axis": {"title": null, "labelAngle": 0, "labelPadding": 1, "labelExpr": "datum.value % 2 == 1 ? 'WT' : 'R47H'"}}},
  "layer": [
   {"data": {"name": "pts"}, "transform": [{"filter": "datum.p == 'K'"}, {"window": [{"op": "row_number", "as": "j"}], "groupby": ["g"]}],
    "mark": {"type": "point", "filled": true, "size": 14, "opacity": 1},
    "encoding": {"xOffset": {"field": "j", "type": "ordinal", "scale": {"domain": [7,5,3,1,2,4,6]}},
     "y": {"field": "v", "type": "quantitative", "scale": {"domain": [0, 15], "nice": false}, "axis": {"title": "Relative Treml2 mRNA", "values": [0, 5, 10, 15], "tickCount": 10, "labelOverlap": false, "format": "d"}},
     "color": {"condition": {"test": "datum.g % 2 == 0", "value": "#1f2a9c"}, "value": "#000"},
     "shape": {"condition": {"test": "datum.g == 3 || datum.g == 4", "value": "triangle-up"}, "value": "circle"}}},
   {"data": {"name": "st"}, "transform": [{"filter": "datum.p == 'K'"}],
    "encoding": {"x": {"field": "g", "type": "ordinal", "scale": {"paddingInner": 0, "paddingOuter": 0.1}, "axis": {"orient": "top", "domain": false, "ticks": false, "labels": false, "title": "Treml2 levels", "titleFontStyle": "italic", "titleFontSize": 9, "titleX": 110, "titleAlign": "left", "titlePadding": 3}}},
    "layer": [
     {"mark": {"type": "rule", "strokeWidth": 1.3}, "encoding": {"y": {"field": "lo", "type": "quantitative"}, "y2": {"field": "hi"}, "color": {"condition": {"test": "datum.g % 2 == 0", "value": "#1f2a9c"}, "value": "#000"}}},
     {"mark": {"type": "tick", "size": 10, "thickness": 1.3}, "encoding": {"y": {"field": "lo", "type": "quantitative"}, "color": {"condition": {"test": "datum.g % 2 == 0", "value": "#1f2a9c"}, "value": "#000"}}},
     {"mark": {"type": "tick", "size": 10, "thickness": 1.3}, "encoding": {"y": {"field": "hi", "type": "quantitative"}, "color": {"condition": {"test": "datum.g % 2 == 0", "value": "#1f2a9c"}, "value": "#000"}}},
     {"mark": {"type": "tick", "size": 23, "thickness": 1.3, "color": "#000"}, "encoding": {"y": {"field": "m", "type": "quantitative"}}},
     {"transform": [{"filter": "datum.sig"}], "mark": {"type": "text", "dy": -2, "fontSize": 8, "color": "#000"}, "encoding": {"y": {"field": "hi", "type": "quantitative"}, "text": {"field": "sig"}}}
   ]}
  ]},
 {"width": 183, "height": 32, "data": {"name": "tbl"}, "mark": {"type": "text", "fontSize": 8, "color": "#000"},
  "encoding": {"x": {"field": "g", "type": "ordinal", "scale": {"paddingInner": 0, "paddingOuter": 0.1}, "axis": null},
   "y": {"field": "r", "type": "nominal", "sort": ["Time(h)", "Saline", "LPS"], "axis": {"title": null, "domain": false, "ticks": false, "labelAlign": "center", "labelPadding": 8, "labelFontSize": 8}},
   "text": {"field": "t"}}}
]},
{"title": {"text": "L", "fontSize": 15, "anchor": "start", "frame": "bounds", "offset": -1}, "spacing": 5, "vconcat": [
 {"width": 183, "height": 121,
  "title": {"text": "KOMP KO", "fontSize": 9, "anchor": "middle", "align": "right", "dx": -6.5, "offset": -12},
  "resolve": {"axis": {"x": "independent"}},
  "encoding": {"x": {"field": "g", "type": "ordinal", "scale": {"paddingInner": 0, "paddingOuter": 0.1}, "axis": {"title": null, "labelAngle": 0, "labelPadding": 1, "labelExpr": "datum.value % 2 == 1 ? 'WT' : 'KOMP'"}}},
  "layer": [
   {"data": {"name": "pts"}, "transform": [{"filter": "datum.p == 'L'"}, {"window": [{"op": "row_number", "as": "j"}], "groupby": ["g"]}],
    "mark": {"type": "point", "filled": true, "size": 14, "opacity": 1},
    "encoding": {"xOffset": {"field": "j", "type": "ordinal", "scale": {"domain": [7,5,3,1,2,4,6]}},
     "y": {"field": "v", "type": "quantitative", "scale": {"domain": [0, 5], "nice": false}, "axis": {"title": "Relative Treml2 mRNA", "values": [0, 1, 2, 3, 4, 5], "tickCount": 10, "labelOverlap": false, "format": "d"}},
     "color": {"condition": {"test": "datum.g % 2 == 0", "value": "#27b327"}, "value": "#000"},
     "shape": {"condition": {"test": "datum.g == 3 || datum.g == 4", "value": "triangle-up"}, "value": "circle"}}},
   {"data": {"name": "st"}, "transform": [{"filter": "datum.p == 'L'"}],
    "encoding": {"x": {"field": "g", "type": "ordinal", "scale": {"paddingInner": 0, "paddingOuter": 0.1}, "axis": {"orient": "top", "domain": false, "ticks": false, "labels": false, "title": "Treml2 levels", "titleFontStyle": "italic", "titleFontSize": 9, "titleX": 88, "titleAlign": "left", "titlePadding": 3}}},
    "layer": [
     {"mark": {"type": "rule", "strokeWidth": 1.3}, "encoding": {"y": {"field": "lo", "type": "quantitative"}, "y2": {"field": "hi"}, "color": {"condition": {"test": "datum.g % 2 == 0", "value": "#27b327"}, "value": "#000"}}},
     {"mark": {"type": "tick", "size": 10, "thickness": 1.3}, "encoding": {"y": {"field": "lo", "type": "quantitative"}, "color": {"condition": {"test": "datum.g % 2 == 0", "value": "#27b327"}, "value": "#000"}}},
     {"mark": {"type": "tick", "size": 10, "thickness": 1.3}, "encoding": {"y": {"field": "hi", "type": "quantitative"}, "color": {"condition": {"test": "datum.g % 2 == 0", "value": "#27b327"}, "value": "#000"}}},
     {"mark": {"type": "tick", "size": 23, "thickness": 1.3, "color": "#000"}, "encoding": {"y": {"field": "m", "type": "quantitative"}}},
     {"transform": [{"filter": "datum.sig"}], "mark": {"type": "text", "dy": -2, "fontSize": 8, "color": "#000"}, "encoding": {"y": {"field": "hi", "type": "quantitative"}, "text": {"field": "sig"}}}
   ]}
  ]},
 {"width": 183, "height": 32, "data": {"name": "tbl"}, "mark": {"type": "text", "fontSize": 8, "color": "#000"},
  "encoding": {"x": {"field": "g", "type": "ordinal", "scale": {"paddingInner": 0, "paddingOuter": 0.1}, "axis": null},
   "y": {"field": "r", "type": "nominal", "sort": ["Time(h)", "Saline", "LPS"], "axis": {"title": null, "domain": false, "ticks": false, "labelAlign": "center", "labelPadding": 8, "labelFontSize": 8}},
   "text": {"field": "t"}}}
]}
]
}
